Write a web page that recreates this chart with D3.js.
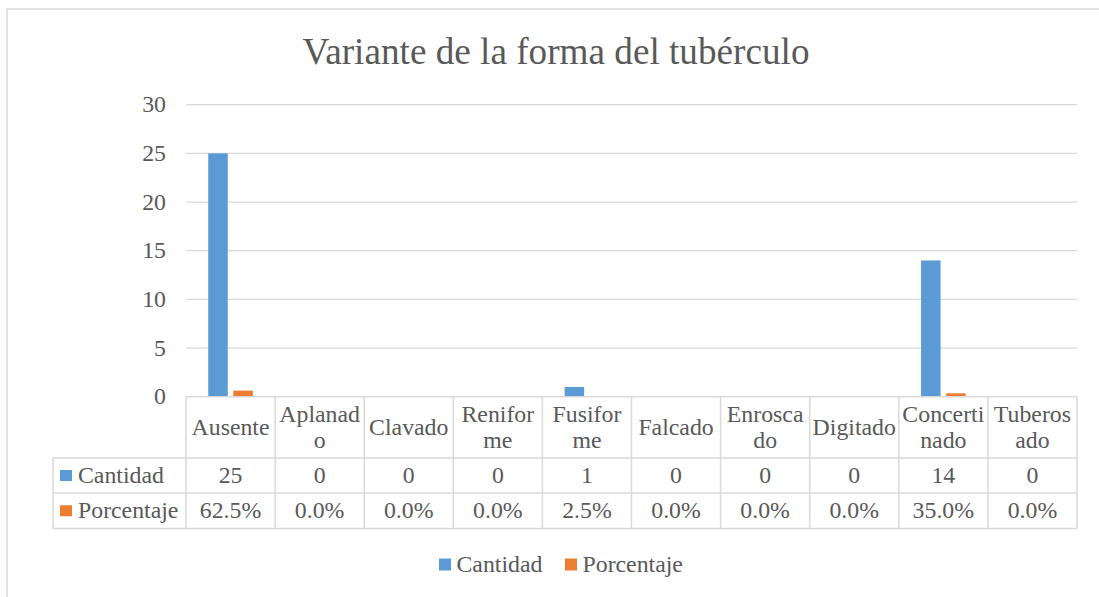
<!DOCTYPE html>
<html>
<head>
<meta charset="utf-8">
<script src="https://cdn.jsdelivr.net/npm/d3@7"></script>
<style>
  body { margin: 0; background: #fff; }
  svg text { font-family: "Liberation Serif", "Times New Roman", serif; fill: #595959; }
</style>
</head>
<body>
<div id="chart"></div>
<script>
// datos de la tabla
const categories = ['Ausente', 'Aplanado', 'Clavado', 'Reniforme', 'Fusiforme', 'Falcado', 'Enroscado', 'Digitado', 'Concertinado', 'Tuberosado']
// como Excel corta las palabras en la celda
const headerLines = [['Ausente'], ['Aplanad', 'o'], ['Clavado'], ['Renifor', 'me'], ['Fusifor', 'me'], ['Falcado'], ['Enrosca', 'do'], ['Digitado'], ['Concerti', 'nado'], ['Tuberos', 'ado']]
const cantidad = [25, 0, 0, 0, 1, 0, 0, 0, 14, 0]
const porcentaje = [0.625, 0, 0, 0, 0.025, 0, 0, 0, 0.35, 0]
const seriesNames = ['Cantidad', 'Porcentaje']
const yTicks = [0, 5, 10, 15, 20, 25, 30]

const W = 1099, H = 597
const colors = { Cantidad: '#5b9bd5', Porcentaje: '#ed7d31' }
const lineColor = '#d9d9d9'
const fs = '23.8px'

const svg = d3.select('#chart').append('svg').attr('width', W).attr('height', H)

// borde del grafico
svg.append('rect').attr('x', 7).attr('y', 9).attr('width', W + 10).attr('height', H + 10)
  .attr('fill', '#fff').attr('stroke', lineColor).attr('stroke-width', 1.5)

svg.append('text').attr('x', 556).attr('y', 64).attr('text-anchor', 'middle')
  .style('font-size', '37.2px').text('Variante de la forma del tubérculo')

const plot = { left: 186, right: 1077, top: 104.7, bottom: 396.7 }
const x = d3.scaleBand().domain(categories).range([plot.left, plot.right])
const xs = d3.scaleBand().domain(seriesNames).range([0, x.bandwidth()]).paddingInner(0.223).paddingOuter(0.886)
const y = d3.scaleLinear().domain([0, 30]).range([plot.bottom, plot.top])

// lineas de la grilla
svg.append('g').selectAll('line').data(yTicks.filter(d => d > 0)).join('line')
  .attr('x1', plot.left).attr('x2', plot.right)
  .attr('y1', d => y(d)).attr('y2', d => y(d))
  .attr('stroke', lineColor).attr('stroke-width', 1.3)

svg.append('g').selectAll('text').data(yTicks).join('text')
  .attr('x', 166).attr('y', d => y(d) + 7.5).attr('text-anchor', 'end')
  .style('font-size', fs).text(d => d)

// barras
const rows = categories.map((c, i) => ({ cat: c, Cantidad: cantidad[i], Porcentaje: porcentaje[i] }))
const groups = svg.append('g').selectAll('g').data(rows).join('g')
  .attr('transform', d => `translate(${x(d.cat)},0)`)
groups.selectAll('rect').data(d => seriesNames.map(s => ({ s, v: d[s] }))).join('rect')
  .attr('x', d => xs(d.s)).attr('width', xs.bandwidth())
  .attr('y', d => y(d.v)).attr('height', d => y(0) - y(d.v))
  .attr('fill', d => colors[d.s])

// tabla de datos
const t = { labelLeft: 53, headBottom: 458, row1Bottom: 493, row2Bottom: 528.5 }
const table = svg.append('g').attr('stroke', lineColor).attr('stroke-width', 1.5)
table.append('line').attr('x1', plot.left).attr('x2', plot.right).attr('y1', plot.bottom).attr('y2', plot.bottom)
;[t.headBottom, t.row1Bottom, t.row2Bottom].forEach(yy => {
  table.append('line').attr('x1', t.labelLeft).attr('x2', plot.right).attr('y1', yy).attr('y2', yy)
})
table.append('line').attr('x1', t.labelLeft).attr('x2', t.labelLeft).attr('y1', t.headBottom).attr('y2', t.row2Bottom)
categories.concat([null]).forEach((c, i) => {
  const xx = c === null ? plot.right : x(c)
  table.append('line').attr('x1', xx).attr('x2', xx).attr('y1', plot.bottom).attr('y2', t.row2Bottom)
})

const cx = c => x(c) + x.bandwidth() / 2
const headMid = (plot.bottom + t.headBottom) / 2
categories.forEach((c, i) => {
  const lines = headerLines[i]
  const tx = svg.append('text').attr('text-anchor', 'middle').style('font-size', fs)
  lines.forEach((ln, j) => {
    const yy = headMid + 7.5 + (j - (lines.length - 1) / 2) * 26.6
    tx.append('tspan').attr('x', cx(c)).attr('y', yy).text(ln)
  })
})

const fmtPct = d3.format('.1%')
const tableRows = [
  { name: 'Cantidad', vals: cantidad.map(d => d), mid: (t.headBottom + t.row1Bottom) / 2 },
  { name: 'Porcentaje', vals: porcentaje.map(fmtPct), mid: (t.row1Bottom + t.row2Bottom) / 2 }
]
tableRows.forEach(r => {
  svg.append('rect').attr('x', 60).attr('y', r.mid - 5.5).attr('width', 12).attr('height', 11).attr('fill', colors[r.name])
  svg.append('text').attr('x', 78).attr('y', r.mid + 7.5).style('font-size', fs).text(r.name)
  r.vals.forEach((v, i) => {
    svg.append('text').attr('x', cx(categories[i])).attr('y', r.mid + 7.5).attr('text-anchor', 'middle')
      .style('font-size', fs).text(v)
  })
})

// leyenda
const legend = [{ name: 'Cantidad', x: 439 }, { name: 'Porcentaje', x: 565 }]
legend.forEach(l => {
  svg.append('rect').attr('x', l.x).attr('y', 558.5).attr('width', 12).attr('height', 12).attr('fill', colors[l.name])
  svg.append('text').attr('x', l.x + 17.5).attr('y', 571.5).style('font-size', fs).text(l.name)
})
</script>
</body>
</html>
